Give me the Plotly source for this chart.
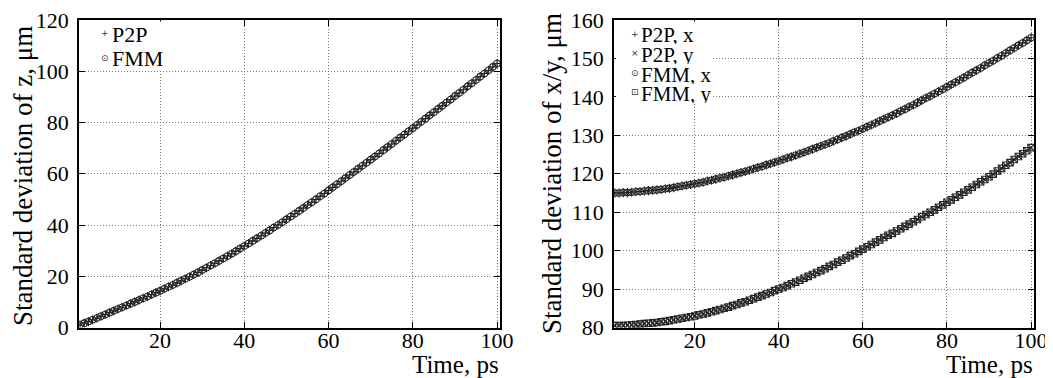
import plotly.graph_objects as go

# ---------------- data ----------------
time_ps = list(range(1, 101))

sigma_z = [1.0, 1.7, 2.3, 3.0, 3.7, 4.4, 5.1, 5.8, 6.5, 7.2,
           7.9, 8.6, 9.3, 10.0, 10.7, 11.4, 12.1, 12.9, 13.6, 14.3,
           15.1, 15.9, 16.6, 17.4, 18.2, 19.0, 19.8, 20.7, 21.5, 22.4,
           23.3, 24.2, 25.1, 26.0, 26.9, 27.9, 28.8, 29.8, 30.8, 31.8,
           32.8, 33.8, 34.8, 35.8, 36.9, 37.9, 39.0, 40.0, 41.1, 42.2,
           43.3, 44.4, 45.5, 46.6, 47.8, 48.9, 50.0, 51.2, 52.3, 53.5,
           54.7, 55.9, 57.1, 58.3, 59.5, 60.7, 61.9, 63.1, 64.3, 65.5,
           66.7, 67.9, 69.2, 70.4, 71.6, 72.9, 74.1, 75.3, 76.6, 77.8,
           79.0, 80.3, 81.5, 82.8, 84.0, 85.3, 86.5, 87.8, 89.0, 90.3,
           91.5, 92.8, 94.1, 95.3, 96.6, 97.9, 99.1, 100.4, 101.7, 103.0]

sigma_x = [115.0, 115.0, 115.1, 115.1, 115.2, 115.3, 115.4, 115.5, 115.6, 115.7,
           115.8, 115.9, 116.1, 116.2, 116.4, 116.6, 116.8, 117.0, 117.2, 117.4,
           117.6, 117.8, 118.1, 118.3, 118.6, 118.9, 119.1, 119.4, 119.7, 120.0,
           120.3, 120.6, 120.9, 121.3, 121.6, 121.9, 122.3, 122.6, 123.0, 123.3,
           123.7, 124.1, 124.4, 124.8, 125.2, 125.6, 126.0, 126.4, 126.8, 127.2,
           127.6, 128.0, 128.5, 128.9, 129.4, 129.8, 130.3, 130.8, 131.2, 131.7,
           132.2, 132.7, 133.2, 133.7, 134.2, 134.7, 135.2, 135.7, 136.3, 136.8,
           137.4, 137.9, 138.5, 139.1, 139.7, 140.2, 140.8, 141.4, 142.0, 142.6,
           143.2, 143.8, 144.4, 145.0, 145.7, 146.3, 146.9, 147.5, 148.2, 148.8,
           149.4, 150.1, 150.7, 151.4, 152.1, 152.7, 153.4, 154.0, 154.7, 155.4]

sigma_y = [80.5, 80.5, 80.5, 80.6, 80.7, 80.8, 80.9, 81.0, 81.1, 81.2,
           81.3, 81.5, 81.6, 81.8, 82.0, 82.2, 82.4, 82.6, 82.8, 83.0,
           83.3, 83.5, 83.8, 84.1, 84.4, 84.7, 85.0, 85.3, 85.7, 86.0,
           86.4, 86.7, 87.1, 87.5, 87.9, 88.3, 88.7, 89.1, 89.6, 90.0,
           90.4, 90.9, 91.4, 91.8, 92.3, 92.8, 93.3, 93.8, 94.3, 94.8,
           95.3, 95.9, 96.4, 97.0, 97.5, 98.1, 98.7, 99.2, 99.8, 100.4,
           101.0, 101.6, 102.2, 102.8, 103.4, 104.0, 104.5, 105.1, 105.7, 106.3,
           106.9, 107.5, 108.1, 108.8, 109.4, 110.0, 110.6, 111.3, 111.9, 112.6,
           113.2, 113.9, 114.5, 115.2, 115.8, 116.5, 117.2, 117.9, 118.5, 119.2,
           119.9, 120.7, 121.4, 122.2, 122.9, 123.7, 124.5, 125.2, 126.0, 126.8]

x_ticks = [20, 40, 60, 80, 100]
z_ticks = [0, 20, 40, 60, 80, 100, 120]
xy_ticks = [80, 90, 100, 110, 120, 130, 140, 150, 160]

left_legend = [("P2P", "+"), ("FMM", "⊙")]
right_legend = [("P2P, x", "+"), ("P2P, y", "×"), ("FMM, x", "⊙"), ("FMM, y", "⊡")]

# ---------------- figure ----------------
W, H = 1053, 378
OFF = 8  # the page body has an 8px default margin
FONT = "Liberation Serif, Tinos, Times New Roman, DejaVu Serif, serif"
MC = "#262626"

fig = go.Figure()

def add(x, y, name, symbol, xa, ya):
    fig.add_trace(go.Scatter(
        x=x, y=y, name=name, mode="markers", xaxis=xa, yaxis=ya,
        showlegend=False,
        marker=dict(symbol=symbol, size=6.5, color=MC,
                    line=dict(color=MC, width=1.1)),
    ))

add(time_ps, sigma_z, "P2P", "cross-thin-open", "x", "y")
add(time_ps, sigma_z, "FMM", "circle-open-dot", "x", "y")
add(time_ps, sigma_x, "P2P, x", "cross-thin-open", "x2", "y2")
add(time_ps, sigma_y, "P2P, y", "x-thin-open", "x2", "y2")
add(time_ps, sigma_x, "FMM, x", "circle-open-dot", "x2", "y2")
add(time_ps, sigma_y, "FMM, y", "square-open-dot", "x2", "y2")

def px(v):
    return (v - OFF) / W

def py(v):
    return 1 - (v - OFF) / H

axis_common = dict(
    showline=True, linecolor="black", linewidth=1.5, mirror="ticks",
    ticks="inside", ticklen=6, tickwidth=1, tickcolor="black",
    showgrid=True, gridcolor="#7a7a7a", gridwidth=1, griddash="1px,2px",
    zeroline=False, automargin=False, ticklabeloverflow="allow",
    tickfont=dict(family=FONT, size=22, color="black"),
)

fig.update_layout(
    width=W, height=H,
    margin=dict(l=0, r=0, t=0, b=0, pad=0, autoexpand=False),
    paper_bgcolor="white", plot_bgcolor="white",
    font=dict(family=FONT, size=22, color="black"),
    showlegend=False,
    xaxis=dict(domain=[px(79), px(500)], range=[0.75, 100.7],
               tickvals=x_ticks, anchor="y", ticklabelstandoff=-8, **axis_common),
    yaxis=dict(domain=[py(327.5), py(20)], range=[0, 120],
               tickvals=z_ticks, anchor="x", ticklabelstandoff=4, **axis_common),
    xaxis2=dict(domain=[px(614), px(1034)], range=[0.8, 100.7],
                tickvals=x_ticks, anchor="y2", ticklabelstandoff=-8, **axis_common),
    yaxis2=dict(domain=[py(327.5), py(20)], range=[80, 160],
                tickvals=xy_ticks, anchor="x2", ticklabelstandoff=4, **axis_common),
)

# legend backgrounds (opaque key boxes, as in the reference)
fig.add_shape(type="rect", xref="paper", yref="paper", layer="above",
              x0=px(81), x1=px(168), y0=py(69), y1=py(21.5),
              fillcolor="white", line=dict(width=0))
fig.add_shape(type="rect", xref="paper", yref="paper", layer="above",
              x0=px(616), x1=px(712), y0=py(104), y1=py(21.5),
              fillcolor="white", line=dict(width=0))

ann = dict(showarrow=False, xref="paper", yref="paper")
txt_font = dict(family=FONT, size=22, color="black")
rtxt_font = dict(family=FONT, size=21, color="black")
sym_font = dict(family="DejaVu Sans", size=9, color="#333333")

for i, (label, sym) in enumerate(left_legend):
    yy = 33 + 25 * i
    fig.add_annotation(text=sym, x=px(105), y=py(yy), xanchor="center",
                       yanchor="middle", font=sym_font, **ann)
    fig.add_annotation(text=label, x=px(111), y=py(yy + 1), xanchor="left",
                       yanchor="middle", font=txt_font, borderpad=0, **ann)

for i, (label, sym) in enumerate(right_legend):
    yy = 34 + 19.5 * i
    fig.add_annotation(text=sym, x=px(635), y=py(yy), xanchor="center",
                       yanchor="middle", font=sym_font, **ann)
    fig.add_annotation(text=label, x=px(640), y=py(yy + 1), xanchor="left",
                       yanchor="middle", font=rtxt_font, borderpad=0,
                       height=19, **ann)

tfont = dict(family=FONT, size=25, color="black")
yfont = dict(family=FONT, size=27, color="black")
fig.add_annotation(text="Time, ps", x=px(501), y=py(364), xanchor="right",
                   yanchor="middle", font=tfont, **ann)
fig.add_annotation(text="Time, ps", x=px(1035), y=py(364), xanchor="right",
                   yanchor="middle", font=tfont, **ann)
fig.add_annotation(text="Standard deviation of z, μm", x=px(23), y=py(176),
                   textangle=-90, xanchor="center", yanchor="middle", font=yfont, **ann)
fig.add_annotation(text="Standard deviation of x/y, μm", x=px(552), y=py(174),
                   textangle=-90, xanchor="center", yanchor="middle", font=yfont, **ann)

fig.write_html("out.html")
